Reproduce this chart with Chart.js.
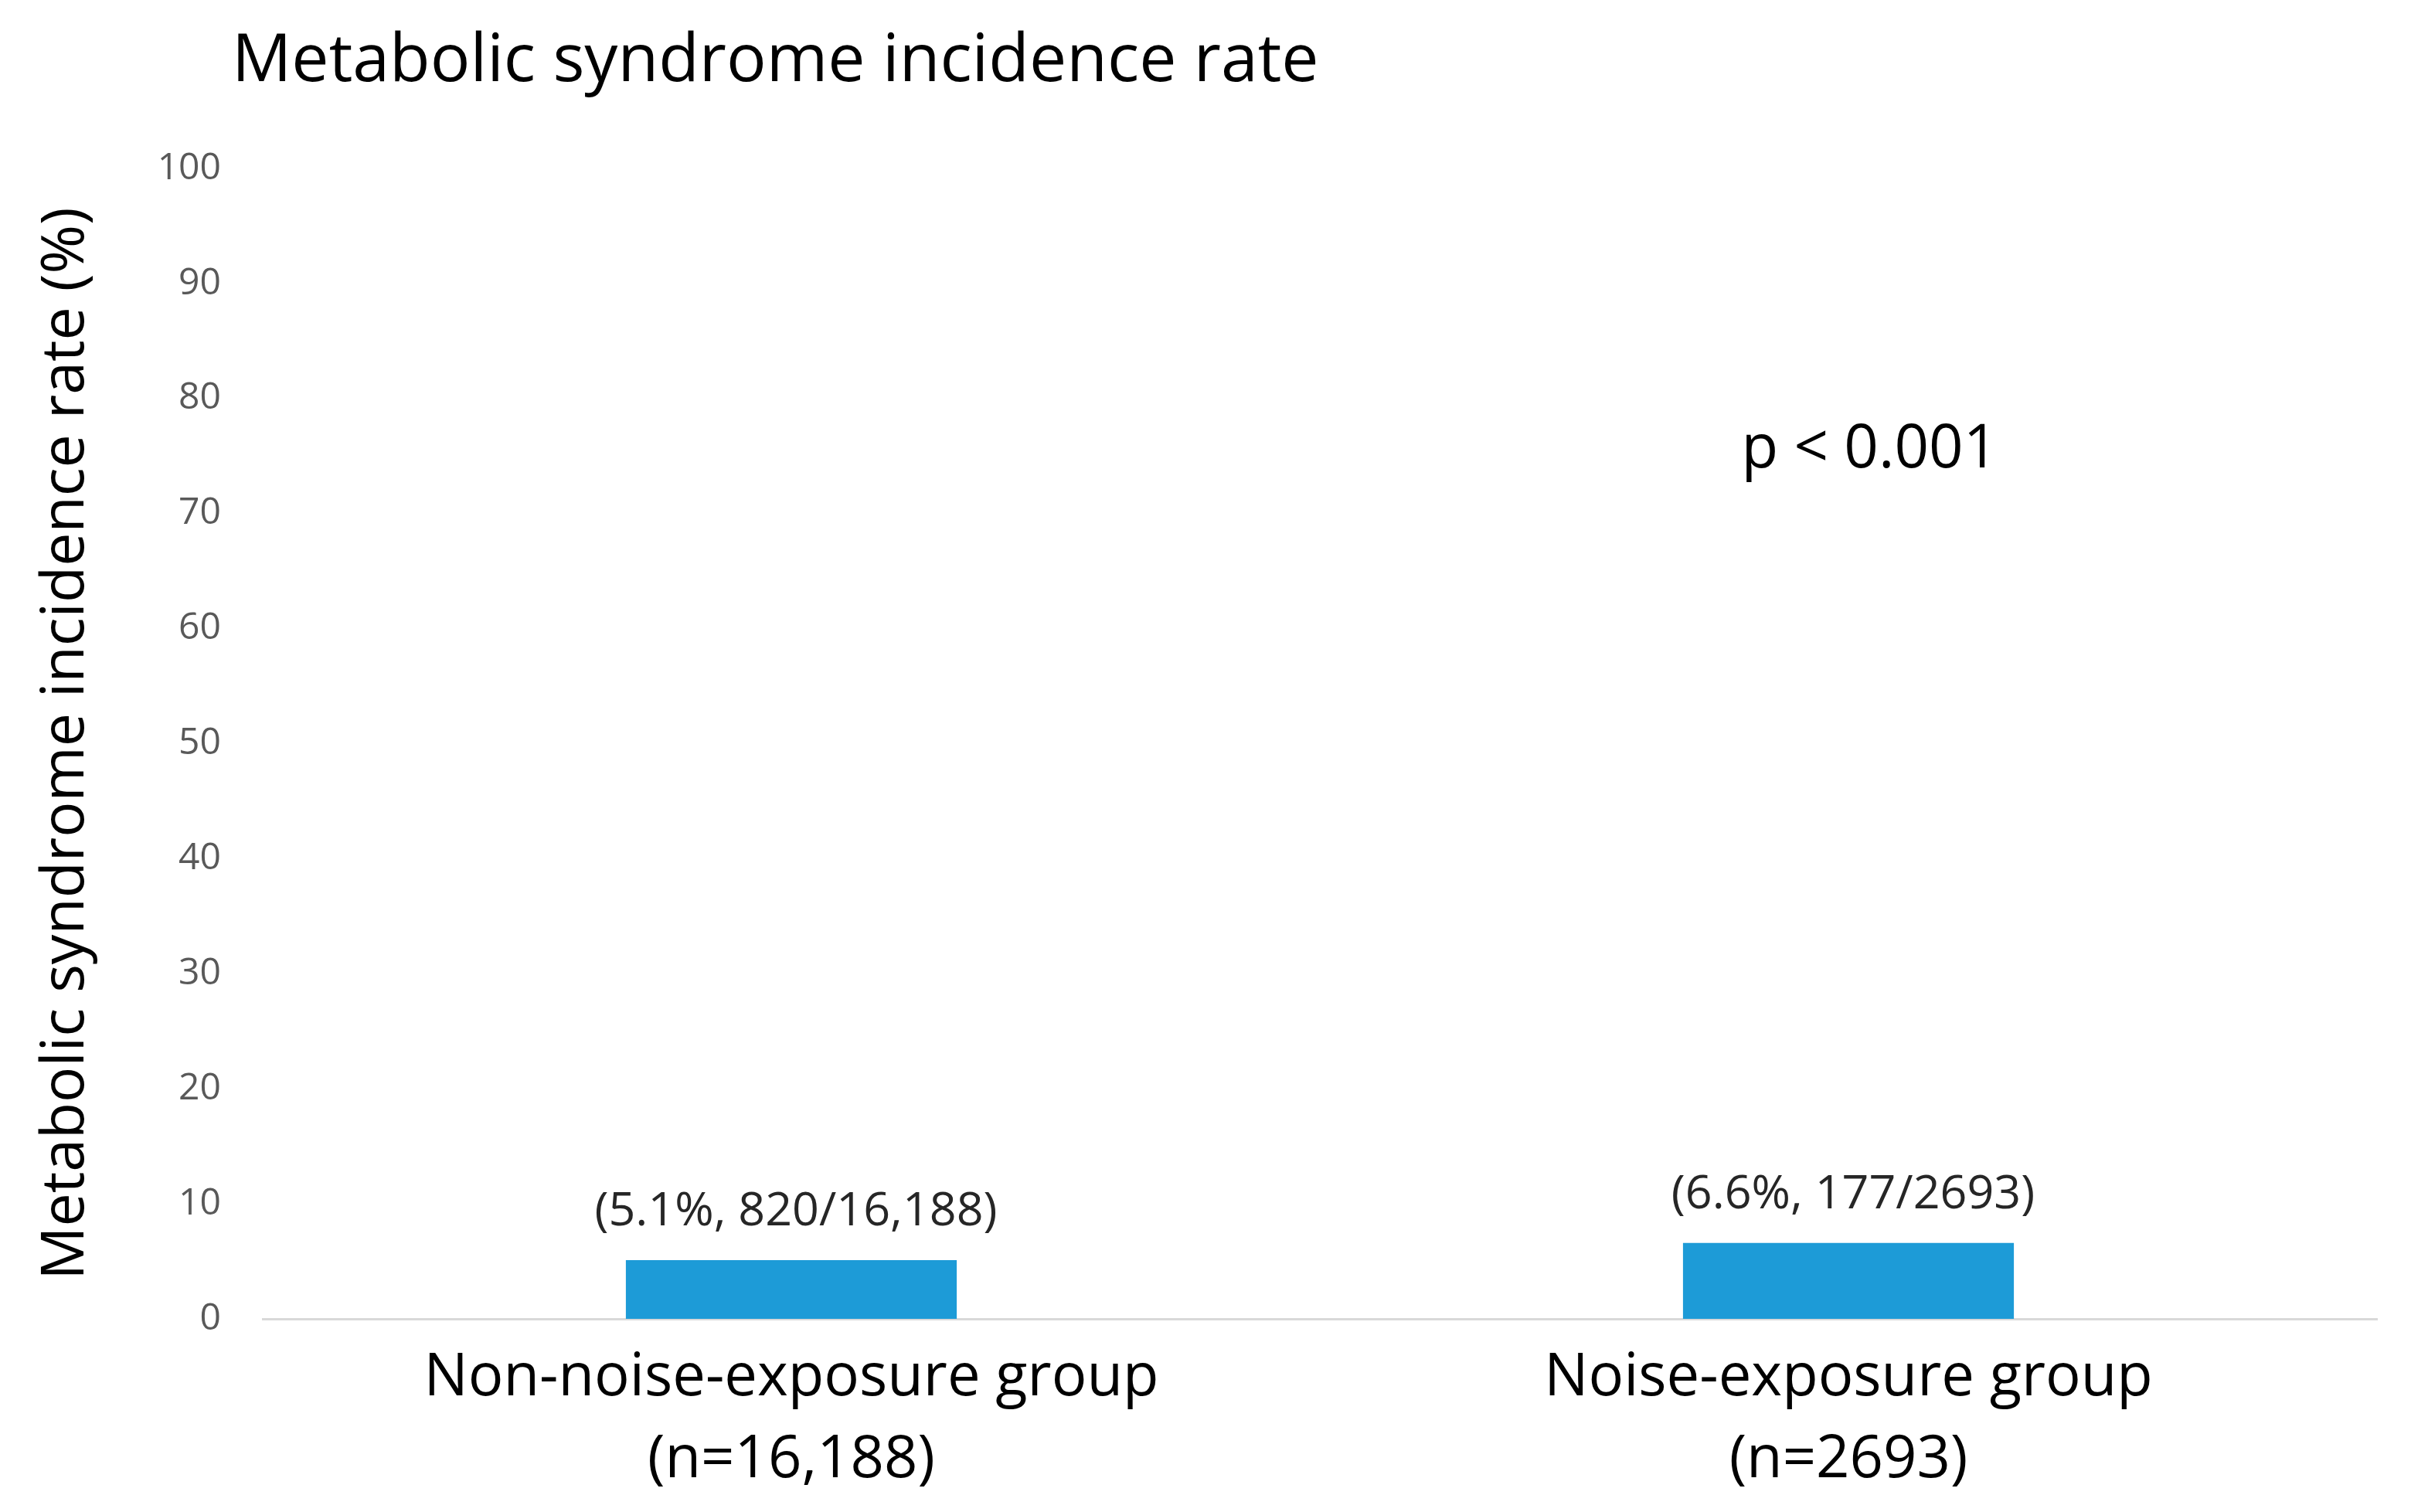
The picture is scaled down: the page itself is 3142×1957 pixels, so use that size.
<!DOCTYPE html>
<html>
<head>
<meta charset="utf-8">
<script src="https://cdn.jsdelivr.net/npm/chart.js@4"></script>
<style>
html,body{margin:0;padding:0;background:#fff;}
canvas{display:block;}
</style>
</head>
<body>
<canvas id="c" width="3142" height="1957"></canvas>
<script>
const chartTitle = 'Metabolic syndrome incidence rate';
const yAxisTitle = 'Metabolic syndrome incidence rate (%)';
const categories = [['Non-noise-exposure group', '(n=16,188)'], ['Noise-exposure group', '(n=2693)']];
const rates = [5.1, 6.6];
const barLabels = ['(5.1%, 820/16,188)', '(6.6%, 177/2693)'];
const pValueText = 'p < 0.001';
const pValuePos = {index: 1.02, value: 75.5};
const FONT = "'Open Sans', 'Noto Sans', sans-serif";

const annotPlugin = {
  id: 'annot',
  afterDatasetsDraw(chart) {
    const ctx = chart.ctx;
    const meta = chart.getDatasetMeta(0);
    ctx.save();
    ctx.fillStyle = '#262626';
    ctx.font = '61px ' + FONT;
    ctx.textAlign = 'center';
    ctx.textBaseline = 'middle';
    meta.data.forEach((bar, i) => {
      ctx.fillText(barLabels[i], bar.x + 6, bar.y - 62);
    });
    const xs = chart.scales.x, ys = chart.scales.y;
    const x0 = xs.getPixelForValue(0), x1 = xs.getPixelForValue(1);
    const px = x0 + (x1 - x0) * pValuePos.index;
    ctx.fillStyle = '#000';
    ctx.font = '78px ' + FONT;
    ctx.fillText(pValueText, px, ys.getPixelForValue(pValuePos.value));
    // title
    ctx.textAlign = 'left';
    ctx.font = '86px ' + FONT;
    ctx.fillText(chartTitle, 300, 80);
    ctx.restore();
  }
};

new Chart(document.getElementById('c'), {
  type: 'bar',
  data: {
    labels: categories,
    datasets: [{
      data: rates,
      backgroundColor: '#1d9bd7',
      borderWidth: 0,
      barPercentage: 0.313,
      categoryPercentage: 1.0
    }]
  },
  options: {
    responsive: false,
    devicePixelRatio: 1,
    animation: false,
    layout: {padding: {top: 218, right: 66, bottom: 0, left: 0}},
    plugins: {legend: {display: false}, tooltip: {enabled: false}, title: {display: false}},
    scales: {
      x: {
        grid: {display: false, drawTicks: false},
        border: {display: true, color: '#d9d9d9', width: 3},
        ticks: {color: '#000', font: {family: FONT, size: 76, lineHeight: 1.4}, padding: 24, maxRotation: 0, autoSkip: false},
        afterFit(s) { s.height = 250; }
      },
      y: {
        min: 0, max: 100,
        grid: {display: false, drawTicks: false},
        border: {display: false},
        ticks: {stepSize: 10, color: '#595959', font: {family: FONT, size: 48}, padding: 54},
        title: {display: true, text: yAxisTitle, color: '#000', font: {family: FONT, size: 77}, padding: {top: 40, bottom: 0}},
        afterFit(s) { s.width = 340; }
      }
    }
  },
  plugins: [annotPlugin]
});
</script>
</body>
</html>
